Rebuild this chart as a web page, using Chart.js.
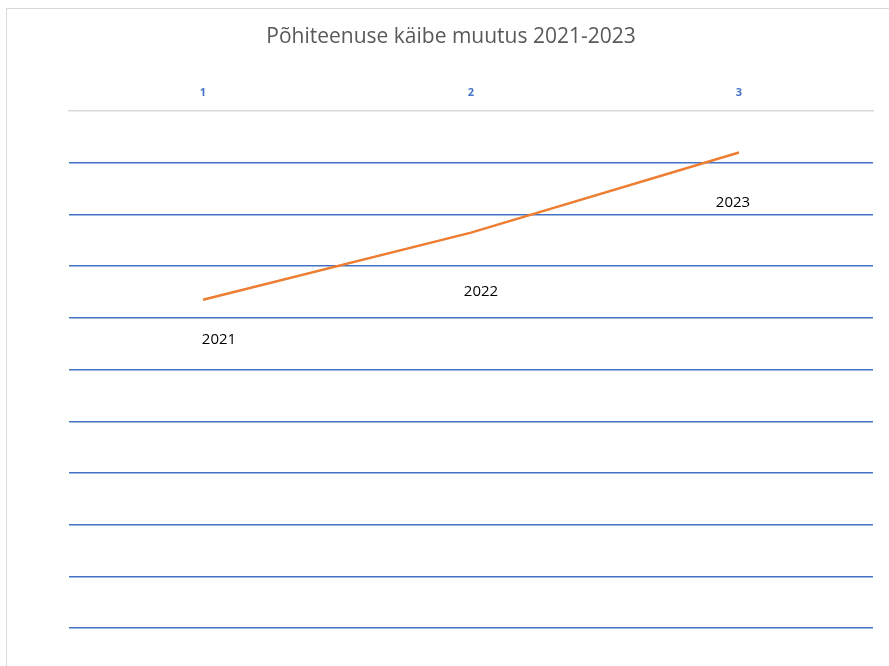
<!DOCTYPE html>
<html>
<head>
<meta charset="utf-8">
<script src="https://cdn.jsdelivr.net/npm/chart.js@4"></script>
<style>
    body { margin: 0; background: #fff; }
    #frame { position: absolute; left: 6px; top: 8px; width: 900px; height: 700px; border: 1px solid #d9d9d9; }
    #c { position: absolute; left: 0; top: 0; }
</style>
</head>
<body>
<div id="frame"></div>
<canvas id="c" width="889" height="666"></canvas>
<script>
const categories = ['1', '2', '3'];
const values = [6.35, 7.65, 9.2];
const pointLabels = ['2021', '2022', '2023'];

// where each data label sits relative to its point
const labelOffsets = [[16, 40], [10, 59], [-6, 50]];

const labelPlugin = {
    id: 'pointText',
    afterDatasetsDraw(chart) {
        const ctx = chart.ctx;
        const meta = chart.getDatasetMeta(0);
        ctx.save();
        ctx.font = '15px "Open Sans", sans-serif';
        ctx.fillStyle = '#000';
        ctx.textAlign = 'center';
        ctx.textBaseline = 'middle';
        meta.data.forEach((pt, i) => {
            ctx.fillText(pointLabels[i], pt.x + labelOffsets[i][0], pt.y + labelOffsets[i][1]);
        });
        ctx.restore();
    }
};

new Chart(document.getElementById('c'), {
    type: 'line',
    data: {
        labels: categories,
        datasets: [{
            data: values,
            borderColor: '#ED7D31',
            borderWidth: 2.5,
            pointRadius: 0,
            tension: 0
        }]
    },
    options: {
        responsive: false,
        animation: false,
        layout: { padding: { left: 29, right: 16, bottom: 38, top: 0 } },
        plugins: {
            legend: { display: false },
            tooltip: { enabled: false },
            title: {
                display: true,
                text: 'Põhiteenuse käibe muutus 2021-2023',
                color: '#595959',
                font: { family: '"Open Sans", sans-serif', size: 21, weight: 'normal' },
                padding: { top: 24, bottom: 0 }
            }
        },
        scales: {
            x: {
                position: 'top',
                offset: true,
                grid: { display: false },
                border: { display: true, color: '#d9d9d9', width: 1.5 },
                ticks: {
                    color: '#4472C4',
                    font: { family: '"Open Sans", sans-serif', size: 11, weight: 'bold' },
                    padding: 4
                },
                afterFit(scale) { scale.height = 62; }
            },
            y: {
                min: 0,
                max: 10,
                ticks: { display: false, stepSize: 1 },
                border: { display: false },
                grid: {
                    drawTicks: false,
                    lineWidth: 1.5,
                    color: (c) => c.tick && c.tick.value === 10 ? 'rgba(0,0,0,0)' : '#4472C4'
                },
                afterFit(scale) { scale.width = 40; }
            }
        }
    },
    plugins: [labelPlugin]
});
</script>
</body>
</html>
